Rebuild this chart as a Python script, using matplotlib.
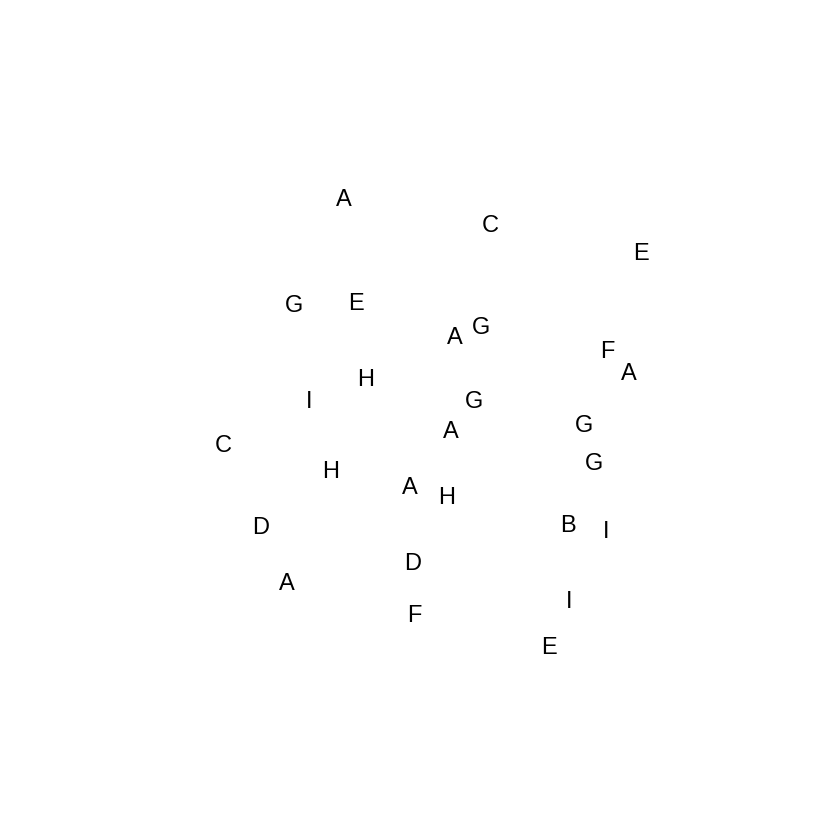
import matplotlib
matplotlib.use("Agg")
import matplotlib.pyplot as plt

# ====================
# Data (label positions, x to the right, y upward)
# ====================
labels = ["A", "C", "E", "G", "E", "A", "G", "F", "A", "H", "I", "G", "A", "G",
          "G", "C", "H", "A", "H", "B", "I", "D", "D", "A", "I", "F", "E"]
x_vals = [344, 490, 641, 294, 356, 455, 481, 607, 629, 366, 309, 474, 451, 584,
          594, 223, 331, 410, 447, 568, 606, 261, 413, 287, 569, 414, 549]
y_vals = [642, 616, 588, 537, 539, 504, 515, 490, 468, 463, 441, 441, 410, 417,
          379, 397, 371, 355, 344, 317, 310, 315, 278, 258, 241, 227, 194]

fig = plt.figure(figsize=(8.4, 8.4), dpi=100)
ax = fig.add_axes([0, 0, 1, 1])
ax.set_xlim(0, 840)
ax.set_ylim(0, 840)
ax.axis("off")

for lab, x, y in zip(labels, x_vals, y_vals):
    ax.text(x, y, lab, ha="center", va="center_baseline",
            fontsize=17, family="Liberation Sans", color="black")

fig.savefig("out.png", dpi=100, facecolor="white")
